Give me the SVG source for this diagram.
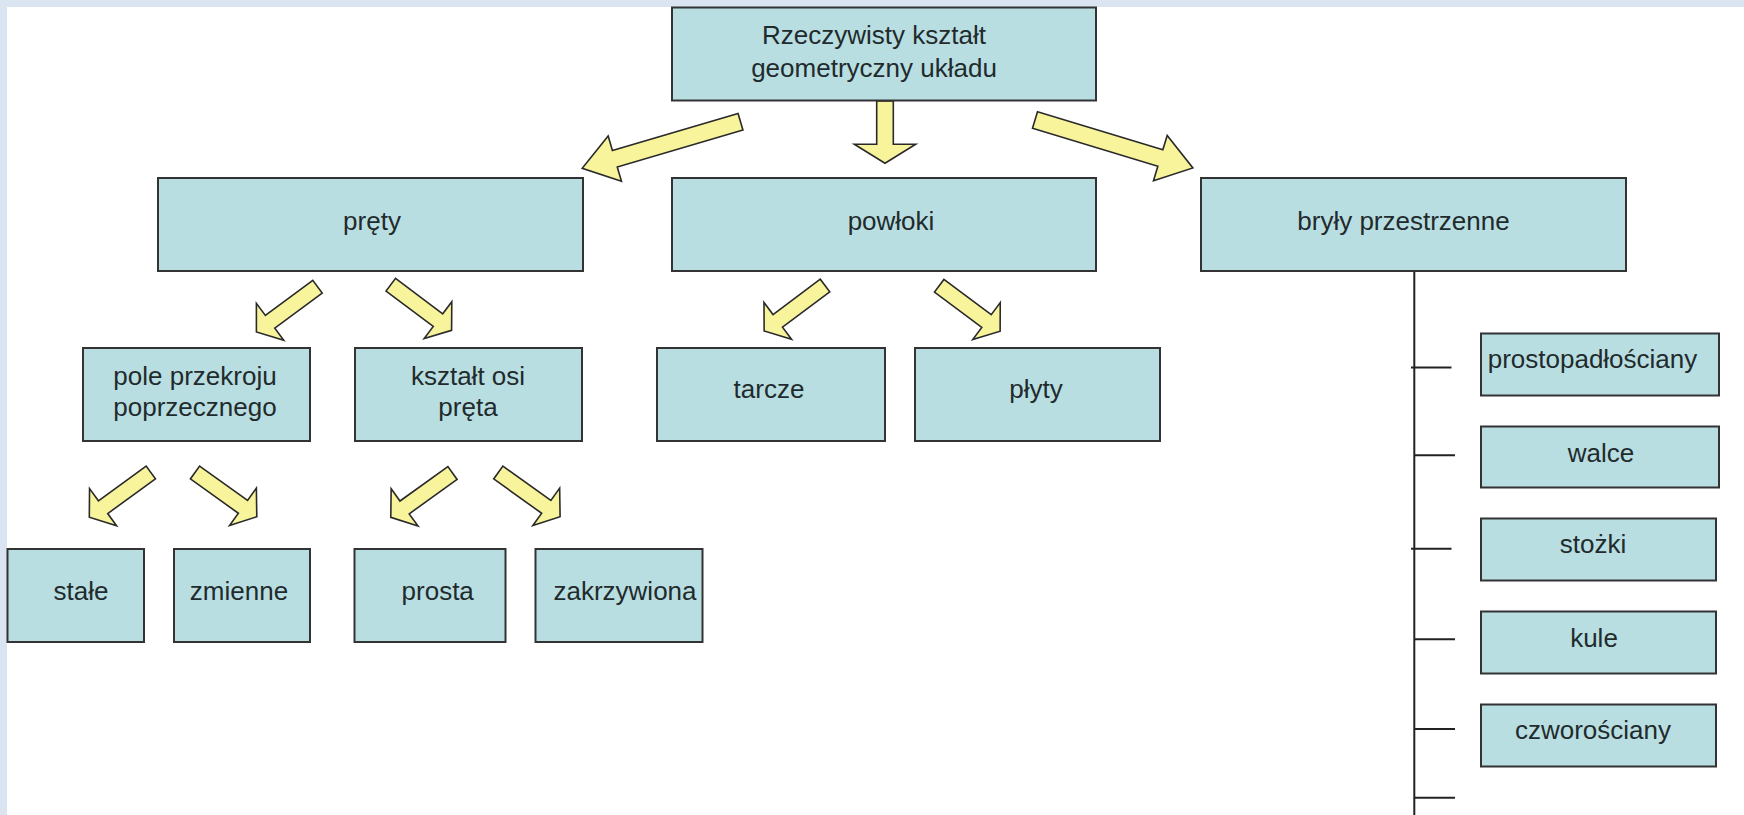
<svg xmlns="http://www.w3.org/2000/svg" width="1744" height="815" viewBox="0 0 1744 815">
<defs>
<style>
.box{fill:#b9dee2;stroke:#333;stroke-width:2}
.t{font-family:"Liberation Sans",Arial,sans-serif;font-size:26px;fill:#1f2b2c;text-anchor:middle}
.arr{fill:#f8f49c;stroke:#2a2a2a;stroke-width:1.6;stroke-linejoin:miter}
.ln{stroke:#222;stroke-width:2;fill:none}
</style>
<path id="bigArrow" d="M0,-8.6 L131,-8.6 L131,-23.6 L165,0 L131,23.6 L131,8.6 L0,8.6 Z"/>
<path id="smallArrow" d="M0,-7.9 L59,-7.9 L59,-23 L76,0 L59,23 L59,7.9 L0,7.9 Z"/>
</defs>
<rect x="0" y="0" width="1744" height="815" fill="#ffffff"/>
<rect x="0" y="0" width="1744" height="7" fill="#dbe5f1"/>
<rect x="0" y="0" width="7" height="815" fill="#dbe5f1"/>

<g id="connectors">
<use href="#bigArrow" class="arr" transform="translate(740.5,121.7) rotate(163.6)"/>
<path class="arr" d="M876.7,101 L893.3,101 L893.3,144.3 L915.7,144.3 L885,163.3 L854.3,144.3 L876.7,144.3 Z"/>
<use href="#bigArrow" class="arr" transform="translate(1035,120) rotate(16.9)"/>
<use href="#smallArrow" class="arr" transform="translate(317.5,286.7) rotate(143.5)"/>
<use href="#smallArrow" class="arr" transform="translate(390.8,284.7) rotate(36.9)"/>
<use href="#smallArrow" class="arr" transform="translate(150.8,472.5) rotate(144)"/>
<use href="#smallArrow" class="arr" transform="translate(195,472.5) rotate(35.6)"/>
<use href="#smallArrow" class="arr" transform="translate(452.5,473) rotate(144.3)"/>
<use href="#smallArrow" class="arr" transform="translate(498.3,472.5) rotate(35.6)"/>
<use href="#smallArrow" class="arr" transform="translate(825,285.5) rotate(143.2)"/>
<use href="#smallArrow" class="arr" transform="translate(939.2,285.8) rotate(36.7)"/>
<line class="ln" x1="1414.3" y1="271" x2="1414.3" y2="815"/>
<line class="ln" x1="1411" y1="367.5" x2="1451.5" y2="367.5"/>
<line class="ln" x1="1414" y1="455.3" x2="1455" y2="455.3"/>
<line class="ln" x1="1411" y1="548.7" x2="1451.5" y2="548.7"/>
<line class="ln" x1="1414" y1="639.2" x2="1455" y2="639.2"/>
<line class="ln" x1="1414" y1="729" x2="1455" y2="729"/>
<line class="ln" x1="1414" y1="797.7" x2="1455" y2="797.7"/>
</g>

<g id="n-root"><rect class="box" x="672" y="7.5" width="424" height="93"/>
<text class="t" x="874" y="43.5">Rzeczywisty kształt</text>
<text class="t" x="874" y="77">geometryczny układu</text></g>

<g id="n-prety"><rect class="box" x="158" y="178" width="425" height="93"/>
<text class="t" x="372" y="230">pręty</text></g>

<g id="n-powloki"><rect class="box" x="672" y="178" width="424" height="93"/>
<text class="t" x="891" y="230">powłoki</text></g>

<g id="n-bryly"><rect class="box" x="1201" y="178" width="425" height="93"/>
<text class="t" x="1403.5" y="230">bryły przestrzenne</text></g>

<g id="n-pole"><rect class="box" x="83" y="348" width="227" height="93"/>
<text class="t" x="195" y="385">pole przekroju</text>
<text class="t" x="195" y="415.7">poprzecznego</text></g>

<g id="n-ksztalt"><rect class="box" x="355" y="348" width="227" height="93"/>
<text class="t" x="468" y="385">kształt osi</text>
<text class="t" x="468" y="415.7">pręta</text></g>

<g id="n-tarcze"><rect class="box" x="657" y="348" width="228" height="93"/>
<text class="t" x="769" y="398">tarcze</text></g>

<g id="n-plyty"><rect class="box" x="915" y="348" width="245" height="93"/>
<text class="t" x="1036" y="398">płyty</text></g>

<g id="n-stale"><rect class="box" x="7.5" y="549" width="136.5" height="93"/>
<text class="t" x="81" y="600">stałe</text></g>

<g id="n-zmienne"><rect class="box" x="174" y="549" width="136" height="93"/>
<text class="t" x="239" y="600">zmienne</text></g>

<g id="n-prosta"><rect class="box" x="354.5" y="549" width="151" height="93"/>
<text class="t" x="437.7" y="600">prosta</text></g>

<g id="n-zakrzywiona"><rect class="box" x="535.5" y="549" width="167" height="93"/>
<text class="t" x="625" y="600">zakrzywiona</text></g>

<g id="n-prostopadloscianu"><rect class="box" x="1481" y="333.5" width="238" height="62"/>
<text class="t" x="1592.5" y="368.3">prostopadłościany</text></g>

<g id="n-walce"><rect class="box" x="1481" y="426.5" width="238" height="61"/>
<text class="t" x="1601" y="461.7">walce</text></g>

<g id="n-stozki"><rect class="box" x="1481" y="518.5" width="235" height="62"/>
<text class="t" x="1593" y="553">stożki</text></g>

<g id="n-kule"><rect class="box" x="1481" y="611.5" width="235" height="62"/>
<text class="t" x="1594" y="646.7">kule</text></g>

<g id="n-czworosciany"><rect class="box" x="1481" y="704.5" width="235" height="62"/>
<text class="t" x="1593" y="739.3">czworościany</text></g>
</svg>
